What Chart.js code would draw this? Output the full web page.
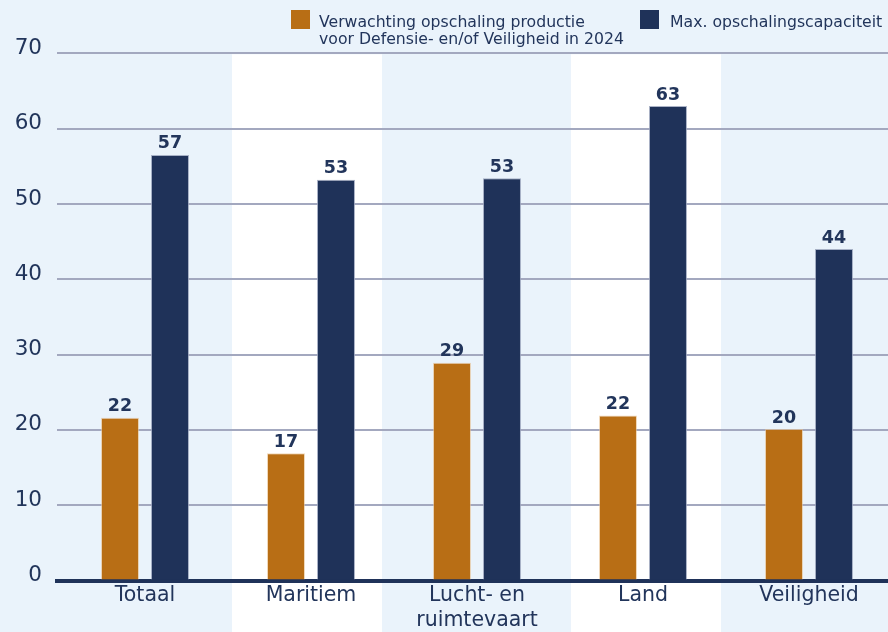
<!DOCTYPE html>
<html>
<head>
<meta charset="utf-8">
<script src="https://cdn.jsdelivr.net/npm/chart.js@4.4.1/dist/chart.umd.min.js"></script>
<style>
  html, body { margin: 0; padding: 0; background: #eaf3fb; }
  #wrap { width: 888px; height: 632px; position: relative; }
</style>
</head>
<body>
<div id="wrap"><canvas id="c" width="888" height="632"></canvas></div>
<script>
// ---- data ----
const categories = ["Totaal", "Maritiem", ["Lucht- en", "ruimtevaart"], "Land", "Veiligheid"];
const seriesNames = ["Verwachting opschaling productie|voor Defensie- en/of Veiligheid in 2024", "Max. opschalingscapaciteit"];
const verwachting = [21.6, 16.9, 28.9, 21.9, 20.1];
const maxCapaciteit = [56.5, 53.2, 53.4, 63.0, 44.0];
const yTicks = [0, 10, 20, 30, 40, 50, 60, 70];

// ---- style ----
const FONT = "'DejaVu Sans', sans-serif";
const NAVY = "#1f3259";
const ORANGE = "#b86e15";
const TEXT = "#22355b";
const GRID = "#a3a8bf";
const BG = "#eaf3fb";
const whiteBands = [[0.524, 1.428], [2.566, 3.470]]; // in category units

const bgPlugin = {
  id: "bg",
  beforeDraw(chart) {
    const ctx = chart.ctx, xs = chart.scales.x, ca = chart.chartArea;
    ctx.save();
    ctx.fillStyle = BG;
    ctx.fillRect(0, 0, chart.width, chart.height);
    ctx.fillStyle = "#ffffff";
    whiteBands.forEach(([a, b]) => {
      const x0 = xs.getPixelForValue(a), x1 = xs.getPixelForValue(b);
      ctx.fillRect(x0, ca.top + 1, x1 - x0, chart.height - ca.top);
    });
    ctx.restore();
  }
};

const labelPlugin = {
  id: "vals",
  afterDatasetsDraw(chart) {
    const ctx = chart.ctx;
    ctx.save();
    ctx.font = "bold 17.5px " + FONT;
    ctx.fillStyle = TEXT;
    ctx.textAlign = "center";
    ctx.textBaseline = "alphabetic";
    chart.data.datasets.forEach((ds, di) => {
      chart.getDatasetMeta(di).data.forEach((bar, i) => {
        ctx.fillText(String(Math.round(ds.data[i].y)), bar.x, bar.y - 6.5);
      });
    });
    ctx.restore();
  }
};

const legendPlugin = {
  id: "customLegend",
  afterDraw(chart) {
    const ctx = chart.ctx;
    const items = [
      { color: ORANGE, box: 291, text: 319, lines: seriesNames[0].split("|") },
      { color: NAVY, box: 640, text: 670, lines: seriesNames[1].split("|") }
    ];
    ctx.save();
    ctx.font = "15.7px " + FONT;
    ctx.textBaseline = "alphabetic";
    ctx.textAlign = "left";
    items.forEach(it => {
      ctx.fillStyle = it.color;
      ctx.fillRect(it.box, 10, 19, 19);
      ctx.fillStyle = TEXT;
      it.lines.forEach((l, k) => ctx.fillText(l, it.text, 27 + k * 17.3));
    });
    ctx.restore();
  }
};

const ds = (vals) => vals.map((v, i) => ({ x: i, y: v }));

new Chart(document.getElementById("c"), {
  type: "bar",
  data: {
    datasets: [
      { label: seriesNames[0].replace("|", " "), data: ds(verwachting), backgroundColor: ORANGE, borderColor: "rgba(230,190,140,0.6)", borderWidth: 1 },
      { label: seriesNames[1], data: ds(maxCapaciteit), backgroundColor: NAVY, borderColor: "rgba(150,160,185,0.8)", borderWidth: 1 }
    ]
  },
  options: {
    responsive: false,
    animation: false,
    devicePixelRatio: 1,
    categoryPercentage: 0.6024,
    barPercentage: 0.76,
    layout: { padding: { top: 53.3, left: 0, right: 0, bottom: 0 } },
    plugins: { legend: { display: false }, tooltip: { enabled: false } },
    scales: {
      x: {
        type: "linear",
        min: -0.5301,
        max: 4.476,
        offset: false,
        bounds: "ticks",
        z: 1,
        grid: { display: false, drawTicks: false, offset: false },
        border: { display: true, color: NAVY, width: 4 },
        afterBuildTicks(scale) { scale.ticks = categories.map((c, i) => ({ value: i })); },
        afterFit(scale) { scale.height = 51.5; },
        ticks: {
          autoSkip: false,
          maxRotation: 0,
          padding: 3,
          color: TEXT,
          font: { family: FONT, size: 20.5, lineHeight: 1.22 },
          callback: (v) => categories[v]
        }
      },
      y: {
        min: 0,
        max: 70,
        afterBuildTicks(scale) { scale.ticks = yTicks.map(v => ({ value: v })); },
        afterFit(scale) { scale.width = 57; },
        border: { display: false },
        grid: {
          drawTicks: false,
          color: (c) => c.tick && c.tick.value === 0 ? "rgba(0,0,0,0)" : GRID,
          lineWidth: 2
        },
        ticks: {
          padding: 15,
          labelOffset: -5,
          color: TEXT,
          font: { family: FONT, size: 21.5 }
        }
      }
    }
  },
  plugins: [bgPlugin, labelPlugin, legendPlugin]
});
</script>
</body>
</html>
